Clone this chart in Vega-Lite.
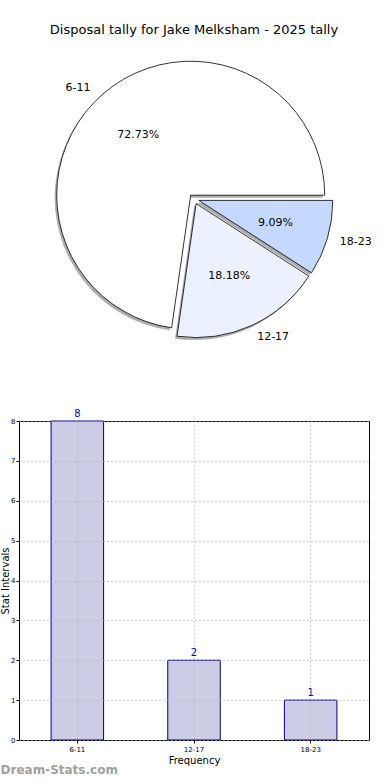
{
  "$schema": "https://vega.github.io/schema/vega-lite/v6.json",
  "padding": {"left": 0, "top": 24, "right": 5, "bottom": 0},
  "config": {"font": "DejaVu Sans", "view": {"stroke": null}},
  "datasets": {
    "tally": [
      {"range": "6-11", "count": 8, "share": 0.7273},
      {"range": "12-17", "count": 2, "share": 0.1818},
      {"range": "18-23", "count": 1, "share": 0.0909}
    ]
  },
  "spacing": 77,
  "bounds": "flush",
  "vconcat": [
    {
      "width": 350,
      "height": 290,
      "title": {"text": "Disposal tally for Jake Melksham - 2025 tally", "fontSize": 13, "fontWeight": "normal", "offset": 17, "color": "black"},
      "data": {"name": "tally"},
      "transform": [
        {"stack": "count", "groupby": [], "sort": [{"field": "count", "order": "ascending"}], "as": ["t0", "t1"]}
      ],
      "layer": [
        {
          "transform": [{"filter": "datum.range === '6-11'"}],
          "mark": {"type": "arc", "radius": 134, "xOffset": -5.3, "yOffset": -1.3, "fill": "#8a8a8a", "opacity": 0.7},
          "encoding": {
            "theta": {"field": "t0", "type": "quantitative", "scale": {"domain": [0, 11], "range": [1.5708, 7.854]}},
            "theta2": {"field": "t1"}
          }
        },
        {
          "transform": [{"filter": "datum.range === '12-17'"}],
          "mark": {"type": "arc", "radius": 134, "xOffset": 0.1, "yOffset": 7.1, "fill": "#8a8a8a", "opacity": 0.7},
          "encoding": {
            "theta": {"field": "t0", "type": "quantitative", "scale": {"domain": [0, 11], "range": [1.5708, 7.854]}},
            "theta2": {"field": "t1"}
          }
        },
        {
          "transform": [{"filter": "datum.range === '18-23'"}],
          "mark": {"type": "arc", "radius": 134, "xOffset": 2.8, "yOffset": 3.9, "fill": "#8a8a8a", "opacity": 0.7},
          "encoding": {
            "theta": {"field": "t0", "type": "quantitative", "scale": {"domain": [0, 11], "range": [1.5708, 7.854]}},
            "theta2": {"field": "t1"}
          }
        },
        {
          "transform": [{"filter": "datum.range === '6-11'"}],
          "mark": {"type": "arc", "radius": 134, "xOffset": -3.3, "yOffset": -3.8, "fill": "#ffffff", "stroke": "black", "strokeWidth": 0.8},
          "encoding": {
            "theta": {"field": "t0", "type": "quantitative", "scale": {"domain": [0, 11], "range": [1.5708, 7.854]}},
            "theta2": {"field": "t1"}
          }
        },
        {
          "transform": [{"filter": "datum.range === '12-17'"}],
          "mark": {"type": "arc", "radius": 134, "xOffset": 2.1, "yOffset": 4.6, "fill": "#ebf1fe", "stroke": "black", "strokeWidth": 0.8},
          "encoding": {
            "theta": {"field": "t0", "type": "quantitative", "scale": {"domain": [0, 11], "range": [1.5708, 7.854]}},
            "theta2": {"field": "t1"}
          }
        },
        {
          "transform": [{"filter": "datum.range === '18-23'"}],
          "mark": {"type": "arc", "radius": 134, "xOffset": 4.8, "yOffset": 1.4, "fill": "#c5d9fe", "stroke": "black", "strokeWidth": 0.8},
          "encoding": {
            "theta": {"field": "t0", "type": "quantitative", "scale": {"domain": [0, 11], "range": [1.5708, 7.854]}},
            "theta2": {"field": "t1"}
          }
        },
        {
          "mark": {"type": "text", "radius": 152, "align": "right", "baseline": "middle", "fontSize": 11, "color": "black", "dx": -4, "dy": 4},
          "encoding": {
            "theta": {"field": "count", "type": "quantitative", "stack": true, "scale": {"domain": [0, 11], "range": [1.5708, 7.854]}},
            "order": {"field": "count", "sort": "ascending"},
            "text": {"condition": {"test": "datum.range === '6-11'", "field": "range"}, "value": ""}
          }
        },
        {
          "mark": {"type": "text", "radius": 152, "align": "left", "baseline": "middle", "fontSize": 11, "color": "black"},
          "encoding": {
            "theta": {"field": "count", "type": "quantitative", "stack": true, "scale": {"domain": [0, 11], "range": [1.5708, 7.854]}},
            "order": {"field": "count", "sort": "ascending"},
            "text": {"condition": {"test": "datum.range !== '6-11'", "field": "range"}, "value": ""}
          }
        },
        {
          "mark": {"type": "text", "radius": 85, "align": "center", "baseline": "middle", "fontSize": 11, "color": "black"},
          "encoding": {
            "theta": {"field": "count", "type": "quantitative", "stack": true, "scale": {"domain": [0, 11], "range": [1.5708, 7.854]}},
            "order": {"field": "count", "sort": "ascending"},
            "text": {"field": "share", "type": "quantitative", "format": ".2%"}
          }
        }
      ]
    },
    {
      "width": 350,
      "height": 319,
      "view": {"stroke": "black", "strokeWidth": 1},
      "title": {"text": "Dream-Stats.com", "orient": "bottom", "anchor": "start", "frame": "bounds", "color": "#a0a0a0", "fontSize": 12, "fontWeight": "bold", "offset": 0},
      "data": {"name": "tally"},
      "encoding": {
        "x": {
          "field": "range", "type": "nominal", "sort": ["6-11", "12-17", "18-23"],
          "scale": {"paddingInner": 0.55, "paddingOuter": 0.275},
          "axis": {"title": "Frequency", "titleFontSize": 10, "titleFontWeight": "normal", "titleColor": "black", "titlePadding": 3, "labelFontSize": 7, "labelColor": "black", "labelAngle": 0, "labelPadding": 2, "grid": true, "gridDash": [1, 3], "gridColor": "#aaaaaa", "tickSize": 3, "tickColor": "black", "domain": false, "zindex": 1}
        },
        "y": {
          "field": "count", "type": "quantitative",
          "scale": {"domain": [0, 8], "nice": false},
          "axis": {"title": "Stat Intervals", "values": [0, 1, 2, 3, 4, 5, 6, 7, 8], "titleFontSize": 10, "titleFontWeight": "normal", "titleColor": "black", "titlePadding": 0, "labelFontSize": 7, "labelColor": "black", "labelPadding": 1, "grid": true, "gridDash": [1, 3], "gridColor": "#aaaaaa", "tickSize": 3, "tickColor": "black", "domain": false, "zindex": 1}
        }
      },
      "layer": [
        {"mark": {"type": "bar", "fill": "#ccccE6", "stroke": "#00007f", "strokeWidth": 1}},
        {"mark": {"type": "text", "dy": -7, "color": "#0000b0", "fontSize": 10}, "encoding": {"text": {"field": "count", "type": "quantitative"}}}
      ]
    }
  ]
}
